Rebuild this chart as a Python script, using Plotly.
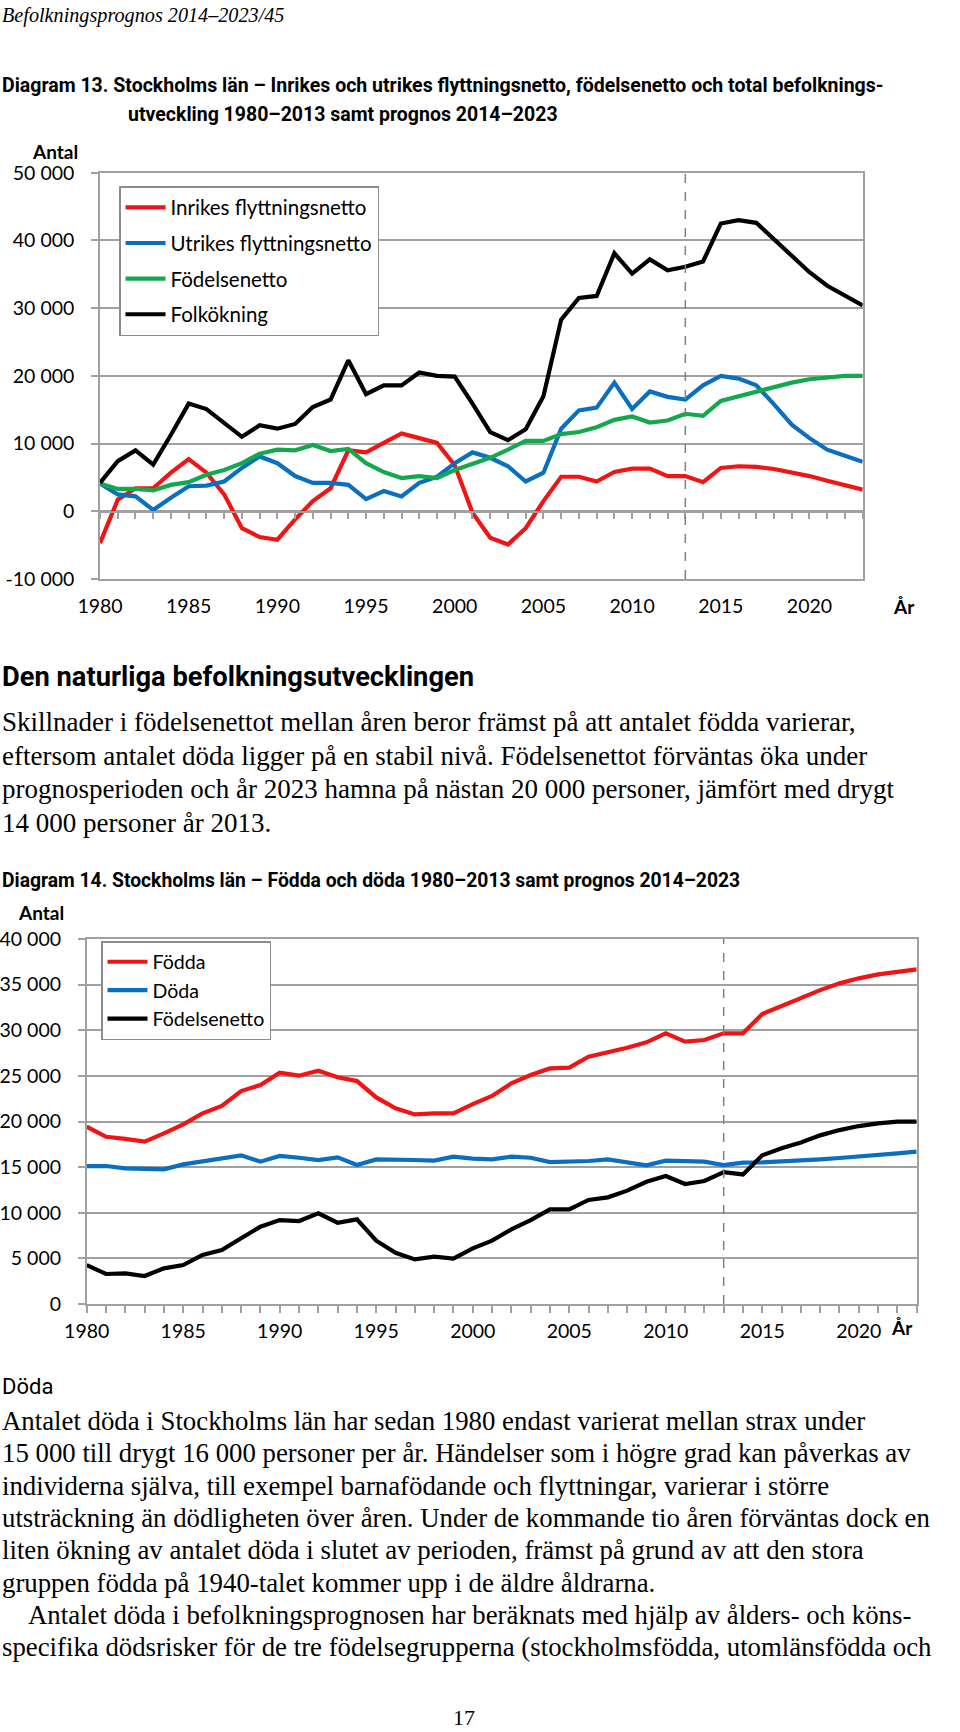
import plotly.graph_objects as go

W, H = 960, 1732

# ---------------- data ----------------
years = list(range(1980, 2024))
prognosis_start = 2013

# Diagram 13
inrikes = [-4700, 1700, 3400, 3400, 5700, 7700, 5700, 2500, -2500, -3800,
           -4200, -1200, 1500, 3400, 9000, 8700, 10100, 11500, 10800, 10100,
           6800, -200, -3900, -4900, -2500, 1500, 5100, 5100, 4400, 5800,
           6300, 6300, 5200, 5200, 4300, 6400, 6650, 6550, 6250, 5800,
           5200, 4500, 3800, 3200]
utrikes = [4100, 2500, 2200, 200, 2000, 3700, 3800, 4400, 6400, 8100,
           7100, 5200, 4200, 4200, 3900, 1800, 3000, 2200, 4200, 5100,
           7100, 8700, 7900, 6650, 4400, 5700, 12200, 14900, 15300, 19000,
           15100, 17700, 16900, 16500, 18600, 20000, 19600, 18600, 15800, 12800,
           10800, 9100, 8200, 7300]
fodelsenetto1 = [4100, 3300, 3300, 3100, 3900, 4300, 5400, 6100, 7100, 8500,
                 9100, 9000, 9800, 8900, 9200, 7100, 5800, 4900, 5200, 4900,
                 6100, 7000, 7900, 9100, 10400, 10400, 11400, 11700, 12400, 13500,
                 14000, 13100, 13400, 14400, 14100, 16300, 17000, 17600, 18300, 19000,
                 19500, 19800, 20000, 20000]
folkokning = [4200, 7400, 9000, 6900, 11300, 15900, 15100, 13000, 11000, 12700,
              12200, 12900, 15400, 16500, 22300, 17300, 18600, 18600, 20500, 20000,
              19900, 15900, 11700, 10500, 12100, 17000, 28300, 31500, 31800, 38100,
              35100, 37200, 35600, 36100, 36900, 42500, 43000, 42600, 40200, 37600,
              35300, 33300, 31800, 30400]

# Diagram 14
fodda = [19430, 18330, 18100, 17790, 18700, 19690, 20890, 21700, 23340, 24000,
         25350, 25020, 25570, 24840, 24430, 22640, 21440, 20780, 20890, 20890,
         21900, 22800, 24180, 25090, 25820, 25900, 27100, 27540, 28090, 28670,
         29660, 28750, 28930, 29660, 29660, 31780, 32650, 33500, 34400, 35140,
         35690, 36120, 36450, 36670]
doda = [15120, 15120, 14870, 14830, 14760, 15300, 15600, 15890, 16290, 15600,
        16220, 16030, 15780, 16070, 15230, 15850, 15850, 15780, 15710, 16140,
        15930, 15850, 16140, 16030, 15560, 15560, 15670, 15850, 15560, 15190,
        15710, 15630, 15600, 15230, 15490, 15520, 15600, 15710, 15850, 16000,
        16140, 16330, 16510, 16690]
fodelsenetto2 = [4270, 3290, 3360, 3070, 3910, 4270, 5370, 5920, 7200, 8470,
                 9200, 9090, 9930, 8910, 9280, 6940, 5620, 4890, 5190, 4970,
                 6100, 6940, 8180, 9200, 10370, 10370, 11400, 11690, 12420, 13400,
                 14020, 13150, 13480, 14460, 14200, 16290, 17060, 17710, 18480, 19060,
                 19500, 19800, 19980, 19980]

x_tickvals = [1980, 1985, 1990, 1995, 2000, 2005, 2010, 2015, 2020]
x_ticktext = ["1980", "1985", "1990", "1995", "2000", "2005", "2010", "2015", "2020"]
y1_tickvals = [-10000, 0, 10000, 20000, 30000, 40000, 50000]
y1_ticktext = ["-10 000", "0", "10 000", "20 000", "30 000", "40 000", "50 000"]
y2_tickvals = [0, 5000, 10000, 15000, 20000, 25000, 30000, 35000, 40000]
y2_ticktext = ["0", "5 000", "10 000", "15 000", "20 000", "25 000", "30 000", "35 000", "40 000"]

names1 = ["Inrikes flyttningsnetto", "Utrikes flyttningsnetto", "Födelsenetto", "Folkökning"]
names2 = ["Födda", "Döda", "Födelsenetto"]

header = "Befolkningsprognos 2014–2023/45"
title13_l1 = "Diagram 13. Stockholms län – Inrikes och utrikes flyttningsnetto, födelsenetto och total befolknings-"
title13_l2 = "utveckling 1980–2013 samt prognos 2014–2023"
heading1 = "Den naturliga befolkningsutvecklingen"
para1 = [
    "Skillnader i födelsenettot mellan åren beror främst på att antalet födda varierar,",
    "eftersom antalet döda ligger på en stabil nivå. Födelsenettot förväntas öka under",
    "prognosperioden och år 2023 hamna på nästan 20 000 personer, jämfört med drygt",
    "14 000 personer år 2013.",
]
title14 = "Diagram 14. Stockholms län – Födda och döda 1980–2013 samt prognos 2014–2023"
heading2 = "Döda"
para2 = [
    "Antalet döda i Stockholms län har sedan 1980 endast varierat mellan strax under",
    "15 000 till drygt 16 000 personer per år. Händelser som i högre grad kan påverkas av",
    "individerna själva, till exempel barnafödande och flyttningar, varierar i större",
    "utsträckning än dödligheten över åren. Under de kommande tio åren förväntas dock en",
    "liten ökning av antalet döda i slutet av perioden, främst på grund av att den stora",
    "gruppen födda på 1940-talet kommer upp i de äldre åldrarna.",
    "Antalet döda i befolkningsprognosen har beräknats med hjälp av ålders- och köns-",
    "specifika dödsrisker för de tre födelsegrupperna (stockholmsfödda, utomlänsfödda och",
]
page_no = "17"

# ---------------- style ----------------
RED, BLUE, GREEN, BLACK = "#F01414", "#0A6FC0", "#14A84E", "#000000"
GRID = "#A0A0A0"
CHART_FONT = "Lato, Carlito, Calibri, sans-serif"
SERIF = "Liberation Serif, Georgia, serif"
NARROW = "Roboto, Liberation Sans, sans-serif"


def px(x):
    return x / W


def py(y):
    return 1 - y / H


fig = go.Figure()

colors1 = [RED, BLUE, GREEN, BLACK]
series1 = [inrikes, utrikes, fodelsenetto1, folkokning]
for i, (nm, s, c) in enumerate(zip(names1, series1, colors1)):
    fig.add_trace(go.Scatter(x=years, y=s, name=nm, mode="lines",
                             line=dict(color=c, width=4.2), xaxis="x", yaxis="y",
                             legend="legend", legendgroup="a%d" % i))

# helper trace so the zero-crossing tick axis is rendered
fig.add_trace(go.Scatter(x=[years[0]], y=[None], xaxis="x3", yaxis="y",
                         showlegend=False, hoverinfo="skip"))

colors2 = [RED, BLUE, BLACK]
series2 = [fodda, doda, fodelsenetto2]
for i, (nm, s, c) in enumerate(zip(names2, series2, colors2)):
    fig.add_trace(go.Scatter(x=years, y=s, name=nm, mode="lines",
                             line=dict(color=c, width=4.2), xaxis="x2", yaxis="y2",
                             legend="legend2", legendgroup="b%d" % i))

axfont = dict(family=CHART_FONT, size=19.5, color="#000")

c1_left, c1_right, c1_top, c1_bottom = 100, 862.7, 172.7, 579
c2_left, c2_right, c2_top, c2_bottom = 86.7, 916.7, 939, 1304
zero1_y = 511.7

fig.update_layout(
    width=W, height=H, margin=dict(l=0, r=0, t=0, b=0, pad=0, autoexpand=False),
    paper_bgcolor="white", plot_bgcolor="white",
    font=dict(family=CHART_FONT, color="#000"),
    showlegend=True,
    xaxis=dict(domain=[px(c1_left), px(c1_right)], anchor="y", range=[1980, 2023],
               tickmode="array", tickvals=x_tickvals, ticktext=x_ticktext,
               ticks="outside", ticklen=9, tickcolor="rgba(0,0,0,0)",
               showgrid=False, zeroline=False, showline=True, mirror=True,
               linecolor=GRID, linewidth=1.5, tickfont=axfont, automargin=False),
    xaxis3=dict(overlaying="x", anchor="free", position=py(zero1_y), range=[1980, 2023],
                tickmode="linear", tick0=1980, dtick=1, ticks="outside", ticklen=7,
                tickcolor=GRID, tickwidth=1.5, showticklabels=False, showgrid=False,
                zeroline=False, showline=True, linecolor=GRID, linewidth=1.5,
                automargin=False),
    yaxis=dict(domain=[py(c1_bottom), py(c1_top)], anchor="x", range=[-10000, 50000],
               tickmode="array", tickvals=y1_tickvals, ticktext=y1_ticktext,
               ticks="outside", ticklen=7, tickcolor=GRID, tickwidth=1.5,
               showgrid=True, gridcolor=GRID, gridwidth=1.5, zeroline=False,
               showline=True, mirror=True, linecolor=GRID, linewidth=1.5,
               tickfont=axfont, ticklabelstandoff=13, automargin=False),
    xaxis2=dict(domain=[px(c2_left), px(c2_right)], anchor="y2", range=[1980, 2023],
                tickmode="array", tickvals=x_tickvals, ticktext=x_ticktext,
                ticks="outside", ticklen=7, tickcolor=GRID, tickwidth=1.5,
                minor=dict(tickmode="linear", tick0=1980, dtick=1, ticks="outside",
                           ticklen=7, tickcolor=GRID, tickwidth=1.5, showgrid=False),
                showgrid=False, zeroline=False, showline=True, mirror=True,
                linecolor=GRID, linewidth=1.5, tickfont=axfont, ticklabelstandoff=2,
                automargin=False),
    yaxis2=dict(domain=[py(c2_bottom), py(c2_top)], anchor="x2", range=[0, 40000],
                tickmode="array", tickvals=y2_tickvals, ticktext=y2_ticktext,
                ticks="outside", ticklen=7, tickcolor=GRID, tickwidth=1.5,
                showgrid=True, gridcolor=GRID, gridwidth=1.5, zeroline=False,
                showline=True, mirror=True, linecolor=GRID, linewidth=1.5,
                tickfont=axfont, ticklabelstandoff=13, automargin=False),
    legend=dict(x=px(119), y=py(186), xanchor="left", yanchor="top",
                bgcolor="white", bordercolor="#8C8C8C", borderwidth=1.5,
                font=dict(family=CHART_FONT, size=20.5, color="#000"),
                tracegroupgap=6, itemwidth=40),
    legend2=dict(x=px(101), y=py(941), xanchor="left", yanchor="top",
                 bgcolor="white", bordercolor="#8C8C8C", borderwidth=1.5,
                 font=dict(family=CHART_FONT, size=19.6, color="#000"),
                 tracegroupgap=0, itemwidth=40),
)

# forecast divider lines
fig.add_shape(type="line", xref="x", yref="y", x0=prognosis_start, x1=prognosis_start,
              y0=-10000, y1=50000, line=dict(color="#808080", width=1.5, dash="dash"))
fig.add_shape(type="line", xref="x2", yref="y2", x0=prognosis_start, x1=prognosis_start,
              y0=0, y1=40000, line=dict(color="#808080", width=1.5, dash="dash"))


def ann(text, x, y, size, family, xanchor="left", color="#000"):
    fig.add_annotation(text=text, x=px(x), y=py(y), xref="paper", yref="paper",
                       xanchor=xanchor, yanchor="middle", showarrow=False,
                       font=dict(size=size, family=family, color=color))


ann("<i>" + header + "</i>", 0, 15, 20.2, SERIF)
ann("<b>" + title13_l1 + "</b>", 0, 85, 19.5, NARROW)
ann("<b>" + title13_l2 + "</b>", 126, 115, 19.5, NARROW)
ann("<b>Antal</b>", 80, 151, 19, CHART_FONT, xanchor="right")
ann("<b>År</b>", 891, 606, 19, CHART_FONT)
ann("<b>" + heading1 + "</b>", 0, 677, 27.3, NARROW)
for i, line in enumerate(para1):
    ann(line, 0, 722 + 33.6 * i, 27.0, SERIF)
ann("<b>" + title14 + "</b>", 0, 880, 19.3, NARROW)
ann("<b>Antal</b>", 66, 912, 19, CHART_FONT, xanchor="right")
ann("<b>År</b>", 889, 1327, 19, CHART_FONT)
ann(heading2, 0, 1386, 22, NARROW)
for i, line in enumerate(para2):
    indent = 26 if i == 6 else 0
    ann(line, indent, 1421 + 32.3 * i, 26.8, SERIF)
ann(page_no, 464, 1717, 22, SERIF, xanchor="center")

fig.write_html("out.html", config={"displayModeBar": False},
               post_script="document.body.style.margin='0px';")
